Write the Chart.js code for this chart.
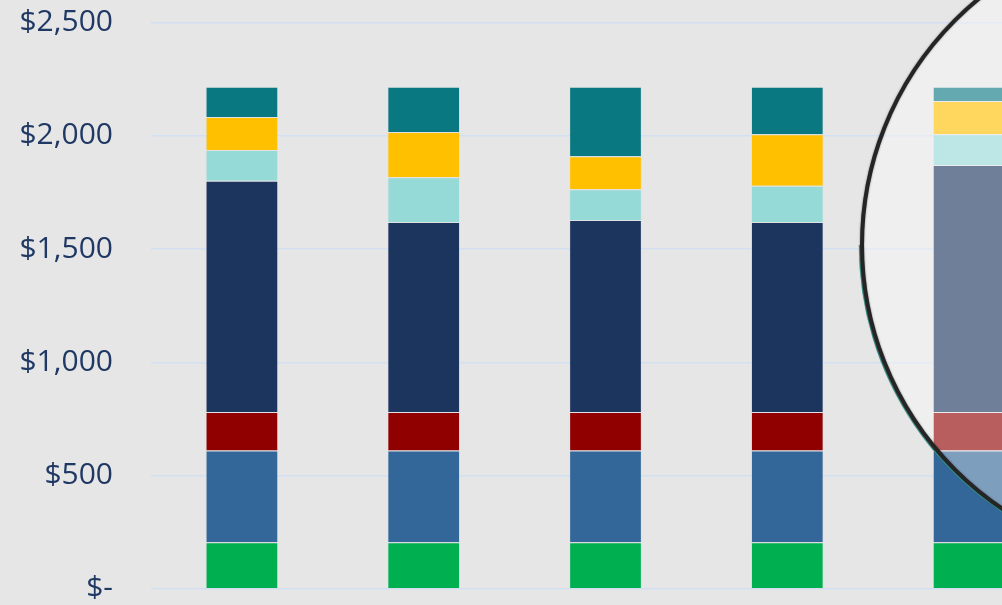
<!DOCTYPE html>
<html>
<head>
<meta charset="utf-8">
<script src="https://cdn.jsdelivr.net/npm/chart.js@4.4.1/dist/chart.umd.min.js"></script>
<style>
    html, body { margin: 0; padding: 0; background: #e6e6e6; overflow: hidden; }
    #wrap { width: 1060px; height: 605px; position: relative; }
</style>
</head>
<body>
<div id="wrap"><canvas id="cost-chart"></canvas></div>
<script>
// Chart data
const categories = ['1', '2', '3', '4', '5'];
const greenValues = [205, 205, 205, 205, 205];
const blueValues = [405, 405, 405, 405, 405];
const redValues = [170, 170, 170, 170, 170];
const navyValues = [1022, 840, 848, 840, 1091];
const lightTealValues = [136, 197, 136, 160, 136];
const yellowValues = [145, 200, 146, 227, 147];
const tealValues = [134, 200, 307, 210, 63];
const yTicks = [0, 500, 1000, 1500, 2000, 2500];

/**
 * Magnifier lens drawn over the right edge of the chart
 */
const lensPlugin = {
    id: 'lens',
    afterDraw(chart) {
        const c = chart.ctx;
        const cx = 1180, cy = 245, r = 318;
        c.save();
        c.beginPath();
        c.arc(cx, cy, r, 0, Math.PI * 2);
        c.fillStyle = 'rgba(255, 255, 255, 0.37)';
        c.fill();
        // thin teal rim on the lower left
        c.beginPath();
        c.arc(cx, cy, r + 2.5, Math.PI * 0.62, Math.PI * 1.0);
        c.strokeStyle = '#3f9a93';
        c.lineWidth = 1.5;
        c.stroke();
        // dark ring
        c.beginPath();
        c.arc(cx, cy, r, 0, Math.PI * 2);
        c.strokeStyle = '#252525';
        c.lineWidth = 4;
        c.shadowColor = 'rgba(0, 0, 0, 0.5)';
        c.shadowBlur = 2;
        c.stroke();
        c.restore();
    }
};

function makeSet(label, data, color) {
    return {
        label: label,
        data: data,
        backgroundColor: color,
        borderColor: 'rgba(200, 205, 215, 0.15)',
        borderWidth: 1,
        barPercentage: 0.8,
        categoryPercentage: 0.5
    };
}

const ctx = document.getElementById('cost-chart');

new Chart(ctx, {
    type: 'bar',
    data: {
        labels: categories,
        datasets: [
            makeSet('Green', greenValues, '#00b050'),
            makeSet('Blue', blueValues, '#336699'),
            makeSet('Red', redValues, '#900000'),
            makeSet('Navy', navyValues, '#1c355e'),
            makeSet('Light teal', lightTealValues, '#96dad8'),
            makeSet('Yellow', yellowValues, '#ffc000'),
            makeSet('Teal', tealValues, '#0a7880')
        ]
    },
    options: {
        responsive: true,
        maintainAspectRatio: false,
        animation: false,
        layout: {
            padding: { top: 22.7, bottom: 16.3, left: 0, right: 0 }
        },
        plugins: {
            legend: { display: false },
            tooltip: { enabled: false }
        },
        scales: {
            x: {
                stacked: true,
                display: false
            },
            y: {
                stacked: true,
                min: 0,
                max: 2500,
                afterBuildTicks: function(axis) {
                    axis.ticks = yTicks.map(v => ({ value: v }));
                },
                afterFit: function(axis) {
                    // keep the plot edges where the reference has them
                    axis.width = 151;
                    axis.paddingTop = 0;
                    axis.paddingBottom = 0;
                },
                border: { display: false },
                grid: {
                    color: '#d3e0f2',
                    lineWidth: 1.5,
                    drawTicks: false
                },
                ticks: {
                    color: '#1f3864',
                    padding: 38,
                    font: { family: 'Open Sans', size: 30 },
                    callback: function(value) {
                        return value === 0 ? '$-' : '$' + value.toLocaleString('en-US');
                    }
                }
            }
        }
    },
    plugins: [lensPlugin]
});
</script>
</body>
</html>
